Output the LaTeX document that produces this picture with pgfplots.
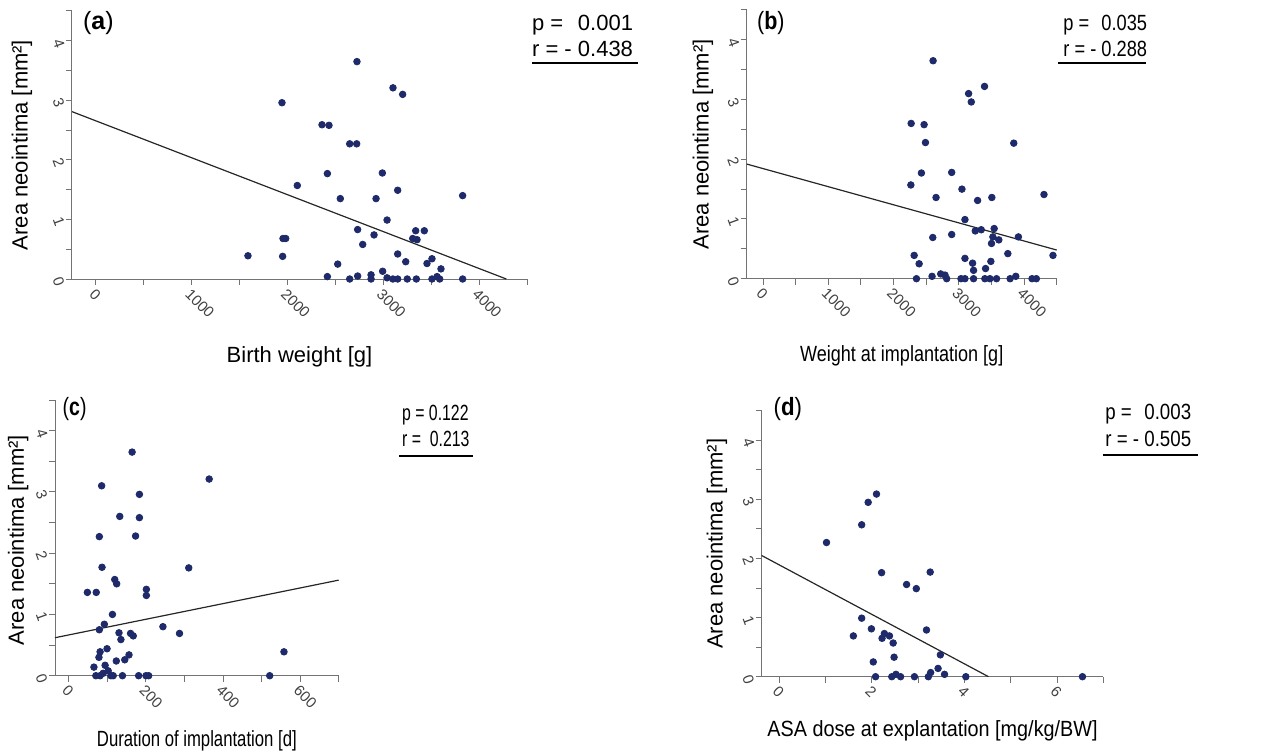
\documentclass[border=0pt]{standalone}
\usepackage{fontspec}
\setmainfont{Liberation Sans}
\usepackage{pgfplots}
\pgfplotsset{compat=1.18}

\definecolor{dotblue}{RGB}{30,42,105}
\definecolor{axgray}{RGB}{115,115,115}

\pgfplotsset{
  panel/.style={
    scale only axis, anchor=south west, axis lines*=left, clip=false,
    ymin=0, ymax=4.5, ytick={0,1,2,3,4}, minor ytick={0.5,1.5,2.5,3.5,4.5},
    tick align=outside, major tick length=3pt, minor tick length=3pt,
    axis line style={axgray, line width=0.5pt},
    every tick/.style={axgray, line width=0.5pt},
    /pgf/number format/assume math mode=true,
    /pgf/number format/1000 sep={},
    tick label style={font=\fontsize{7.5}{9}\selectfont, text=black!75},
    xticklabel style={rotate=-45, anchor=north west, inner sep=0.8pt},
    yticklabel style={rotate=-70, anchor=north, inner sep=1pt},
    label style={font=\fontsize{11}{13}\selectfont},
    ylabel={Area neointima [mm²]},
  },
  dots/.style={only marks, mark=*, mark size=1.65pt, color=dotblue},
  fit/.style={no marks, color=black!85, line width=0.6pt},
}

\begin{document}
\begin{tikzpicture}
\useasboundingbox (0,0) rectangle (634pt,375.5pt);

% (a) birth weight
\begin{axis}[panel, at={(36pt,236pt)}, width=227.5pt, height=134pt,
  xmin=-250, xmax=4500, xtick={0,1000,2000,3000,4000},
  minor xtick={500,1500,2500,3500,4500},
  xlabel={Birth weight [g]},
  xlabel style={at={(axis description cs:0.5,-0.312)}, anchor=base},
  ylabel style={at={(axis description cs:-0.110,0.5)}, anchor=center}]
\addplot[dots] coordinates {
(2725,3.65) (1942,2.96) (3101,3.21) (3202,3.10) (2360,2.59) (2433,2.58)
(2649,2.27) (2722,2.27) (2416,1.77) (2990,1.78) (2102,1.57) (3150,1.49)
(2551,1.35) (2924,1.35) (3039,0.99) (2732,0.83) (2903,0.74) (2785,0.58)
(1953,0.68) (1981,0.68) (1587,0.39) (1949,0.38) (2524,0.25) (2416,0.04)
(2649,0.00) (2732,0.05) (2872,0.07) (2872,0.00) (2993,0.13) (3039,0.02)
(3100,0.00) (3150,0.00) (3150,0.42) (3234,0.29) (3250,0.00) (3307,0.68)
(3352,0.66) (3338,0.81) (3428,0.81) (3345,0.00) (3456,0.26) (3508,0.34)
(3508,0.00) (3561,0.04) (3602,0.17) (3588,0.00) (3828,1.40) (3828,0.00)};
\addplot[fit] coordinates {(-250,2.81) (4284,0)};
\end{axis}

% (b) weight at implantation
\begin{axis}[panel, at={(373.35pt,236.15pt)}, width=155pt, height=134.35pt,
  xmin=-250, xmax=4500, xtick={0,1000,2000,3000,4000},
  minor xtick={500,1500,2500,3500,4500},
  xlabel={\scalebox{0.82}[1]{Weight at implantation [g]}},
  xlabel style={at={(axis description cs:0.5,-0.309)}, anchor=base},
  ylabel style={at={(axis description cs:-0.141,0.5)}, anchor=center}]
\addplot[dots] coordinates {
(2606,3.65) (3394,3.22) (3150,3.10) (3191,2.96) (2270,2.60) (2468,2.58)
(2489,2.28) (3842,2.27) (2427,1.77) (2891,1.78) (2265,1.57) (3048,1.50)
(4305,1.41) (2651,1.36) (3506,1.36) (3288,1.31) (3094,0.99) (3252,0.80)
(3344,0.82) (3542,0.84) (2891,0.74) (2601,0.69) (3522,0.70) (3613,0.65)
(3913,0.70) (3501,0.59) (2316,0.39) (3751,0.42) (4443,0.39) (2392,0.25)
(3094,0.34) (3211,0.26) (3226,0.14) (3491,0.29) (3410,0.17) (2351,0.00)
(2590,0.04) (2723,0.08) (2789,0.06) (2814,0.00) (3033,0.00) (3094,0.00)
(3226,0.00) (3399,0.00) (3476,0.00) (3578,0.00) (3786,0.00) (3873,0.04)
(4122,0.00) (4188,0.00)};
\addplot[fit] coordinates {(-250,1.92) (4500,0.48)};
\end{axis}

% (c) duration of implantation
\begin{axis}[panel, at={(27.5pt,37.65pt)}, width=141.85pt, height=137.85pt,
  xmin=-36, xmax=700, xtick={0,200,400,600},
  minor xtick={100,300,500,700},
  xlabel={\scalebox{0.76}[1]{Duration of implantation [d]}},
  xlabel style={at={(axis description cs:0.5,-0.2575)}, anchor=base},
  ylabel style={at={(axis description cs:-0.130,0.492)}, anchor=center}]
\addplot[dots] coordinates {
(164,3.65) (364,3.21) (85,3.10) (183,2.96) (132,2.60) (183,2.58)
(79,2.27) (173,2.28) (86,1.77) (311,1.76) (119,1.57) (124,1.50)
(201,1.41) (201,1.31) (48,1.36) (71,1.36) (113,1.00) (92,0.84)
(79,0.75) (244,0.80) (287,0.69) (130,0.70) (135,0.59) (160,0.69)
(167,0.65) (558,0.39) (81,0.39) (78,0.30) (99,0.44) (123,0.24)
(145,0.26) (156,0.34) (65,0.14) (94,0.17) (70,0.00) (81,0.00)
(89,0.04) (102,0.08) (109,0.00) (115,0.00) (139,0.00) (181,0.00)
(200,0.00) (207,0.00) (521,0.00)};
\addplot[fit] coordinates {(-36,0.62) (700,1.56)};
\end{axis}

% (d) ASA dose
\begin{axis}[panel, at={(380.85pt,37.15pt)}, width=170.8pt, height=133pt,
  xmin=-0.38, xmax=7, xtick={0,2,4,6},
  minor xtick={1,3,5,7},
  xlabel={\scalebox{0.90}[1]{ASA dose at explantation [mg/kg/BW]}},
  xlabel style={at={(axis description cs:0.5,-0.2256)}, anchor=base},
  ylabel style={at={(axis description cs:-0.131,0.5)}, anchor=center}]
\addplot[dots] coordinates {
(2.10,3.09) (1.92,2.95) (1.78,2.57) (1.02,2.27) (2.21,1.76) (3.26,1.77)
(2.75,1.56) (2.96,1.49) (1.78,0.99) (1.99,0.81) (3.18,0.79) (1.60,0.69)
(2.27,0.73) (2.22,0.65) (2.38,0.69) (2.46,0.57) (3.48,0.37) (2.48,0.33)
(2.03,0.25) (3.43,0.14) (3.27,0.07) (3.57,0.04) (2.08,0.00) (2.43,0.00)
(2.52,0.04) (2.62,0.00) (2.92,0.00) (3.22,0.00) (4.03,0.00) (6.55,0.00)};
\addplot[fit] coordinates {(-0.38,2.05) (4.52,0)};
\end{axis}

% panel letters
\begin{scope}[every node/.style={inner sep=0pt, anchor=base west, font=\fontsize{12.5}{14}\selectfont}]
\node at (41.35pt,360.5pt) {(\textbf{a})};
\node at (378.35pt,360.5pt) {\scalebox{0.86}[1]{(\textbf{b})}};
\node at (31.15pt,168pt) {\scalebox{0.78}[1]{(\textbf{c})}};
\node at (386.65pt,168pt) {\scalebox{0.89}[1]{(\textbf{d})}};
\end{scope}

% statistics
\begin{scope}[every node/.style={inner sep=0pt, font=\fontsize{11}{13}\selectfont}]
\node[anchor=base west] (ra) at (265.85pt,347.15pt) {r = - 0.438};
\node[anchor=base west] at (265.85pt,360.15pt) {p =};
\node[anchor=base east, yshift=13pt] at (ra.base east) {0.001};
\draw[line width=0.9pt] (265.85pt,344.15pt) -- (319.15pt,344.15pt);

\node[anchor=base west] (rb) at (531.5pt,347.15pt) {\scalebox{0.83}[1]{r = - 0.288}};
\node[anchor=base west] at (531.5pt,360.15pt) {\scalebox{0.83}[1]{p =}};
\node[anchor=base east, yshift=13pt] at (rb.base east) {\scalebox{0.83}[1]{0.035}};
\draw[line width=0.9pt] (529pt,343.85pt) -- (573pt,343.85pt);

\node[anchor=base west] at (200.85pt,165.15pt) {\scalebox{0.72}[1]{p = 0.122}};
\node[anchor=base west] at (200.85pt,152.15pt) {\scalebox{0.72}[1]{r =\ \ 0.213}};
\draw[line width=0.9pt] (199.65pt,147.65pt) -- (236.35pt,147.65pt);

\node[anchor=base west] (rd) at (552.5pt,152.5pt) {\scalebox{0.85}[1]{r = - 0.505}};
\node[anchor=base west] at (552.5pt,165.85pt) {\scalebox{0.85}[1]{p =}};
\node[anchor=base east, yshift=13.35pt] at (rd.base east) {\scalebox{0.85}[1]{0.003}};
\draw[line width=0.9pt] (551.35pt,148pt) -- (599.15pt,148pt);
\end{scope}
\end{tikzpicture}
\end{document}
